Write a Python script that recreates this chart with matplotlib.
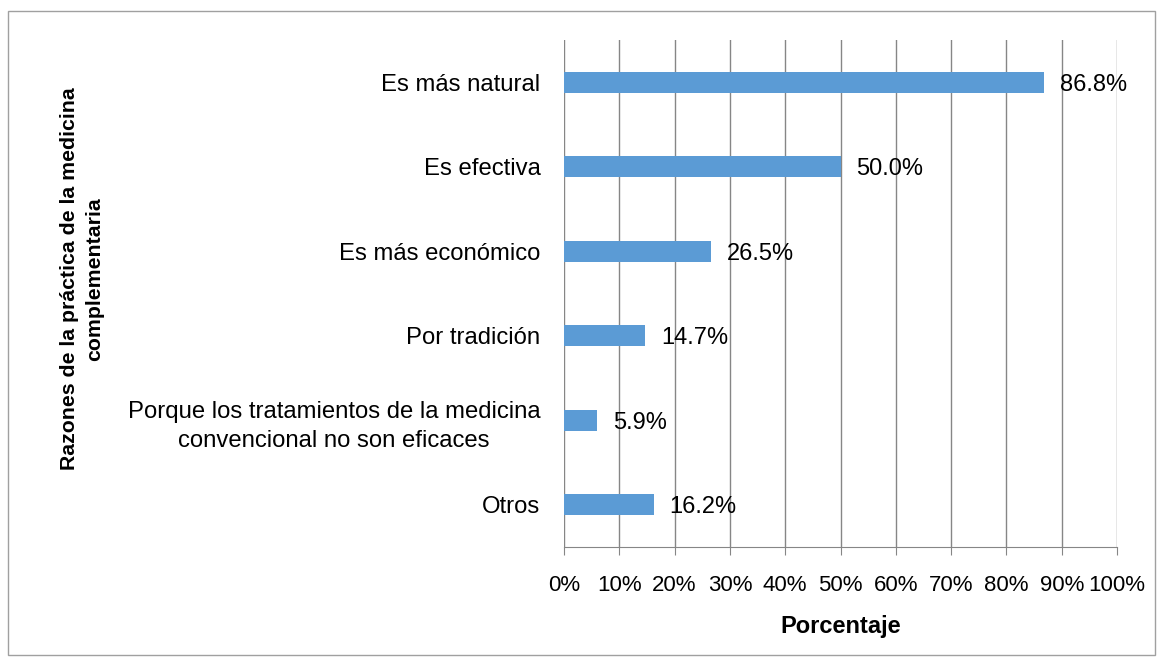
import matplotlib
matplotlib.use("Agg")
import matplotlib.pyplot as plt
from matplotlib.patches import Rectangle
from matplotlib.ticker import FuncFormatter

categories = ["Es más natural", "Es efectiva", "Es más económico", "Por tradición",
              "Porque los tratamientos de la medicina\nconvencional no son eficaces", "Otros"]
values = [86.8, 50.0, 26.5, 14.7, 5.9, 16.2]
xticks = [0, 10, 20, 30, 40, 50, 60, 70, 80, 90, 100]

plt.rcParams['font.family'] = ['Liberation Sans', 'DejaVu Sans']
W, H = 1163, 664
fig = plt.figure(figsize=(W/100, H/100), dpi=100)
ax = fig.add_axes([564/W, 1-547/H, (1117-564)/W, (547-40)/H])

n = len(categories)
ypos = list(range(n))
ax.barh(ypos, values, height=0.25, color="#5B9BD5", zorder=3)
ax.set_ylim(n-0.5, -0.5)
ax.set_xlim(0, 100)
ax.set_xticks(xticks)
ax.xaxis.set_major_formatter(FuncFormatter(lambda v, p: f"{v:.0f}%"))
ax.set_yticks(ypos)
ax.set_yticklabels(categories, fontsize=17.2, ha='right')
ax.tick_params(axis='y', length=0, pad=17)
ax.tick_params(axis='x', length=6, color="#868686", labelsize=16, pad=14, direction='out')
for lab in ax.get_yticklabels():
    lab.set_multialignment('center')
    lab.set_linespacing(1.4)
ax.grid(axis='x', color="#868686", linewidth=1, zorder=0)
for s in ['top', 'right', 'left']:
    ax.spines[s].set_visible(False)
ax.spines['bottom'].set_color("#868686")

for y, v in zip(ypos, values):
    ax.text(v + 2.9, y + 0.03, f"{v:.1f}%", va='center', ha='left', fontsize=17, zorder=4)

ax.set_xlabel("Porcentaje", fontsize=17, fontweight='bold', labelpad=14)
fig.text(82/W, 1-279/H, "Razones de la práctica de la medicina\ncomplementaria",
         rotation=90, ha='center', va='center', fontsize=15.3, fontweight='bold',
         multialignment='center', linespacing=1.45)

fig.patches.append(Rectangle((8/W, 1-655/H), (1155-8)/W, (655-11)/H, transform=fig.transFigure,
                             fill=False, edgecolor="#A0A0A0", linewidth=1))
fig.savefig("out.png", dpi=100)
